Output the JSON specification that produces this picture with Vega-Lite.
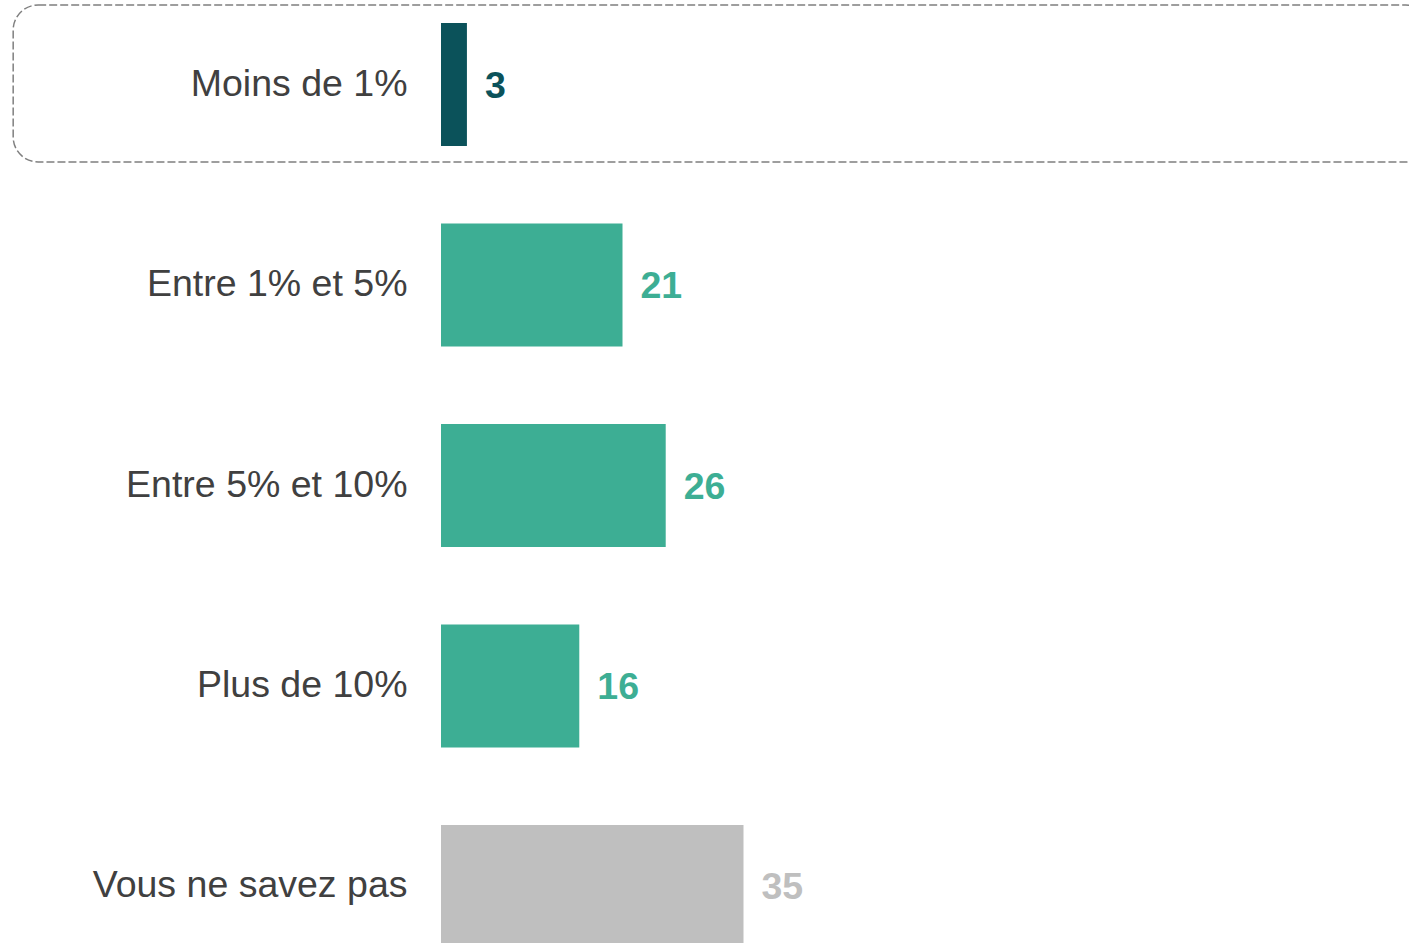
{
  "$schema": "https://vega.github.io/schema/vega-lite/v6.json",
  "autosize": {"type": "none"},
  "padding": {"left": 441, "top": 0, "right": 0, "bottom": 0},
  "width": 968,
  "height": 943,
  "background": "white",
  "config": {"view": {"stroke": null}, "font": "Liberation Sans"},
  "data": {
    "values": [
      {"category": "Moins de 1%", "value": 3},
      {"category": "Entre 1% et 5%", "value": 21},
      {"category": "Entre 5% et 10%", "value": 26},
      {"category": "Plus de 10%", "value": 16},
      {"category": "Vous ne savez pas", "value": 35}
    ]
  },
  "resolve": {"scale": {"y": "independent"}},
  "layer": [
    {
      "transform": [{"filter": "datum.category === 'Moins de 1%'"}],
      "mark": {"type": "rect", "fill": null, "filled": false, "stroke": "#7f7f7f", "strokeWidth": 1.5, "strokeDash": [8, 3], "cornerRadius": 25},
      "encoding": {
        "y": {"field": "category", "type": "nominal", "axis": null,
              "scale": {"domain": ["Moins de 1%", "Entre 1% et 5%", "Entre 5% et 10%", "Plus de 10%", "Vous ne savez pas"],
                        "range": [5, 964], "paddingInner": 0.217, "paddingOuter": 0}},
        "x": {"datum": -49.5, "type": "quantitative", "scale": {"domain": [0, 112], "nice": false, "zero": false}, "axis": null},
        "x2": {"datum": 114.5}
      }
    },
    {
      "encoding": {
        "y": {"field": "category", "type": "nominal", "sort": null,
              "scale": {"domain": ["Moins de 1%", "Entre 1% et 5%", "Entre 5% et 10%", "Plus de 10%", "Vous ne savez pas"],
                        "range": [23, 948], "paddingInner": 0.3865, "paddingOuter": 0},
              "axis": {"title": null, "domain": false, "ticks": false, "labelFontSize": 37.5, "labelColor": "#404040", "labelPadding": 34, "labelFont": "Liberation Sans", "labelLimit": 440}},
        "x": {"field": "value", "type": "quantitative", "scale": {"domain": [0, 112], "nice": false, "zero": false}, "axis": null},
        "color": {"field": "category", "type": "nominal", "legend": null,
                  "scale": {"domain": ["Moins de 1%", "Entre 1% et 5%", "Entre 5% et 10%", "Plus de 10%", "Vous ne savez pas"],
                            "range": ["#0B525A", "#3DAE94", "#3DAE94", "#3DAE94", "#BFBFBF"]}}
      },
      "layer": [
        {"mark": {"type": "bar"}},
        {"mark": {"type": "text", "align": "left", "baseline": "middle", "dx": 18, "dy": 2, "fontSize": 37.5, "fontWeight": "bold", "font": "Liberation Sans"},
         "encoding": {"text": {"field": "value", "type": "quantitative"}}}
      ]
    }
  ]
}
